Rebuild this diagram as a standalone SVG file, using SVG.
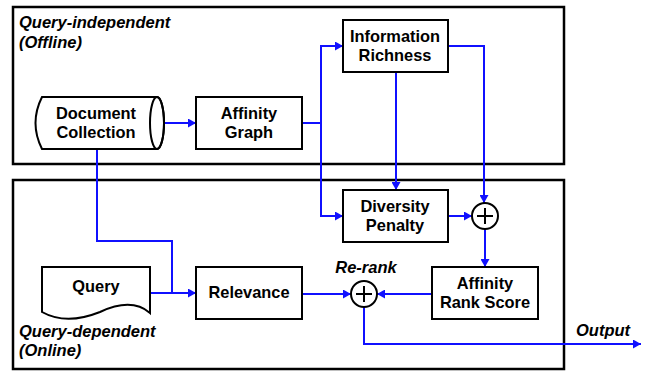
<svg xmlns="http://www.w3.org/2000/svg" width="651" height="371" viewBox="0 0 651 371">
<style>
.frame{fill:none;stroke:#000;stroke-width:2.5}
.box{fill:#fff;stroke:#000;stroke-width:2}
.t{font-family:"Liberation Sans",Arial,sans-serif;font-weight:bold;font-size:16.4px;fill:#000;text-anchor:middle}
.lbl{font-family:"Liberation Sans",Arial,sans-serif;font-weight:bold;font-style:italic;font-size:16.5px;fill:#000}
.c{fill:none;stroke:#1010ff;stroke-width:2}
.a{marker-end:url(#ah)}
.pl{stroke:#000;stroke-width:2}
</style>
<defs>
<marker id="ah" markerWidth="8" markerHeight="9" refX="8" refY="4.5" orient="auto" markerUnits="userSpaceOnUse">
<path d="M0,0 L8,4.5 L0,9 Z" fill="#1010ff"/>
</marker>
</defs>
<rect width="651" height="371" fill="#fff"/>
<g id="frames">
<rect class="frame" x="13" y="7" width="551" height="157"/>
<rect class="frame" x="13" y="180" width="551" height="189"/>
<text class="lbl" x="19" y="28">Query-independent</text>
<text class="lbl" x="19" y="48">(Offline)</text>
<text class="lbl" x="19" y="337">Query-dependent</text>
<text class="lbl" x="19" y="356">(Online)</text>
</g>
<g id="connectors">
<path class="c a" d="M164,123 H196"/>
<path class="c a" d="M302,123 H321 V46 H343"/>
<path class="c a" d="M321,123 V216 H343"/>
<path class="c a" d="M396,72 V190"/>
<path class="c a" d="M448,46 H484 V203"/>
<path class="c a" d="M448,216 H472"/>
<path class="c a" d="M485,229 V267"/>
<path class="c a" d="M432,294 H377"/>
<path class="c a" d="M302,294 H351"/>
<path class="c a" d="M150,293 H196"/>
<path class="c" d="M97,149 V241 H172 V293"/>
<path class="c a" d="M364,307 V344 H641"/>
<text class="lbl" x="366" y="273" text-anchor="middle">Re-rank</text>
<text class="lbl" x="576" y="336">Output</text>
</g>
<g id="doc-collection">
<path class="box" d="M42,97 H157 A7,26 0 0 1 157,149 H42 Q29,123 42,97 Z"/>
<ellipse cx="157" cy="123" rx="7" ry="26" fill="none" stroke="#000" stroke-width="2"/>
<text class="t" x="96" y="119">Document</text>
<text class="t" x="96" y="138">Collection</text>
</g>
<g id="affinity-graph">
<rect class="box" x="196" y="97" width="106" height="52"/>
<text class="t" x="249" y="119">Affinity</text>
<text class="t" x="249" y="138">Graph</text>
</g>
<g id="information-richness">
<rect class="box" x="343" y="20" width="105" height="52"/>
<text class="t" x="395" y="42">Information</text>
<text class="t" x="395" y="61">Richness</text>
</g>
<g id="diversity-penalty">
<rect class="box" x="343" y="190" width="105" height="52"/>
<text class="t" x="395" y="212">Diversity</text>
<text class="t" x="395" y="231">Penalty</text>
</g>
<g id="sum">
<circle cx="485" cy="216" r="13" fill="#fff" stroke="#000" stroke-width="2"/>
<path class="pl" d="M477,216 H493 M485,208 V224"/>
</g>
<g id="affinity-rank-score">
<rect class="box" x="432" y="267" width="106" height="52"/>
<text class="t" x="485" y="289">Affinity</text>
<text class="t" x="485" y="308">Rank Score</text>
</g>
<g id="query">
<path class="box" d="M42,267 H150 V313 C135,300 115,305 100,312 C80,320 60,322 42,312 Z"/>
<text class="t" x="96" y="292">Query</text>
</g>
<g id="relevance">
<rect class="box" x="196" y="267" width="106" height="52"/>
<text class="t" x="249" y="298">Relevance</text>
</g>
<g id="rerank">
<circle cx="364" cy="294" r="13" fill="#fff" stroke="#000" stroke-width="2"/>
<path class="pl" d="M356,294 H372 M364,286 V302"/>
</g>
</svg>
